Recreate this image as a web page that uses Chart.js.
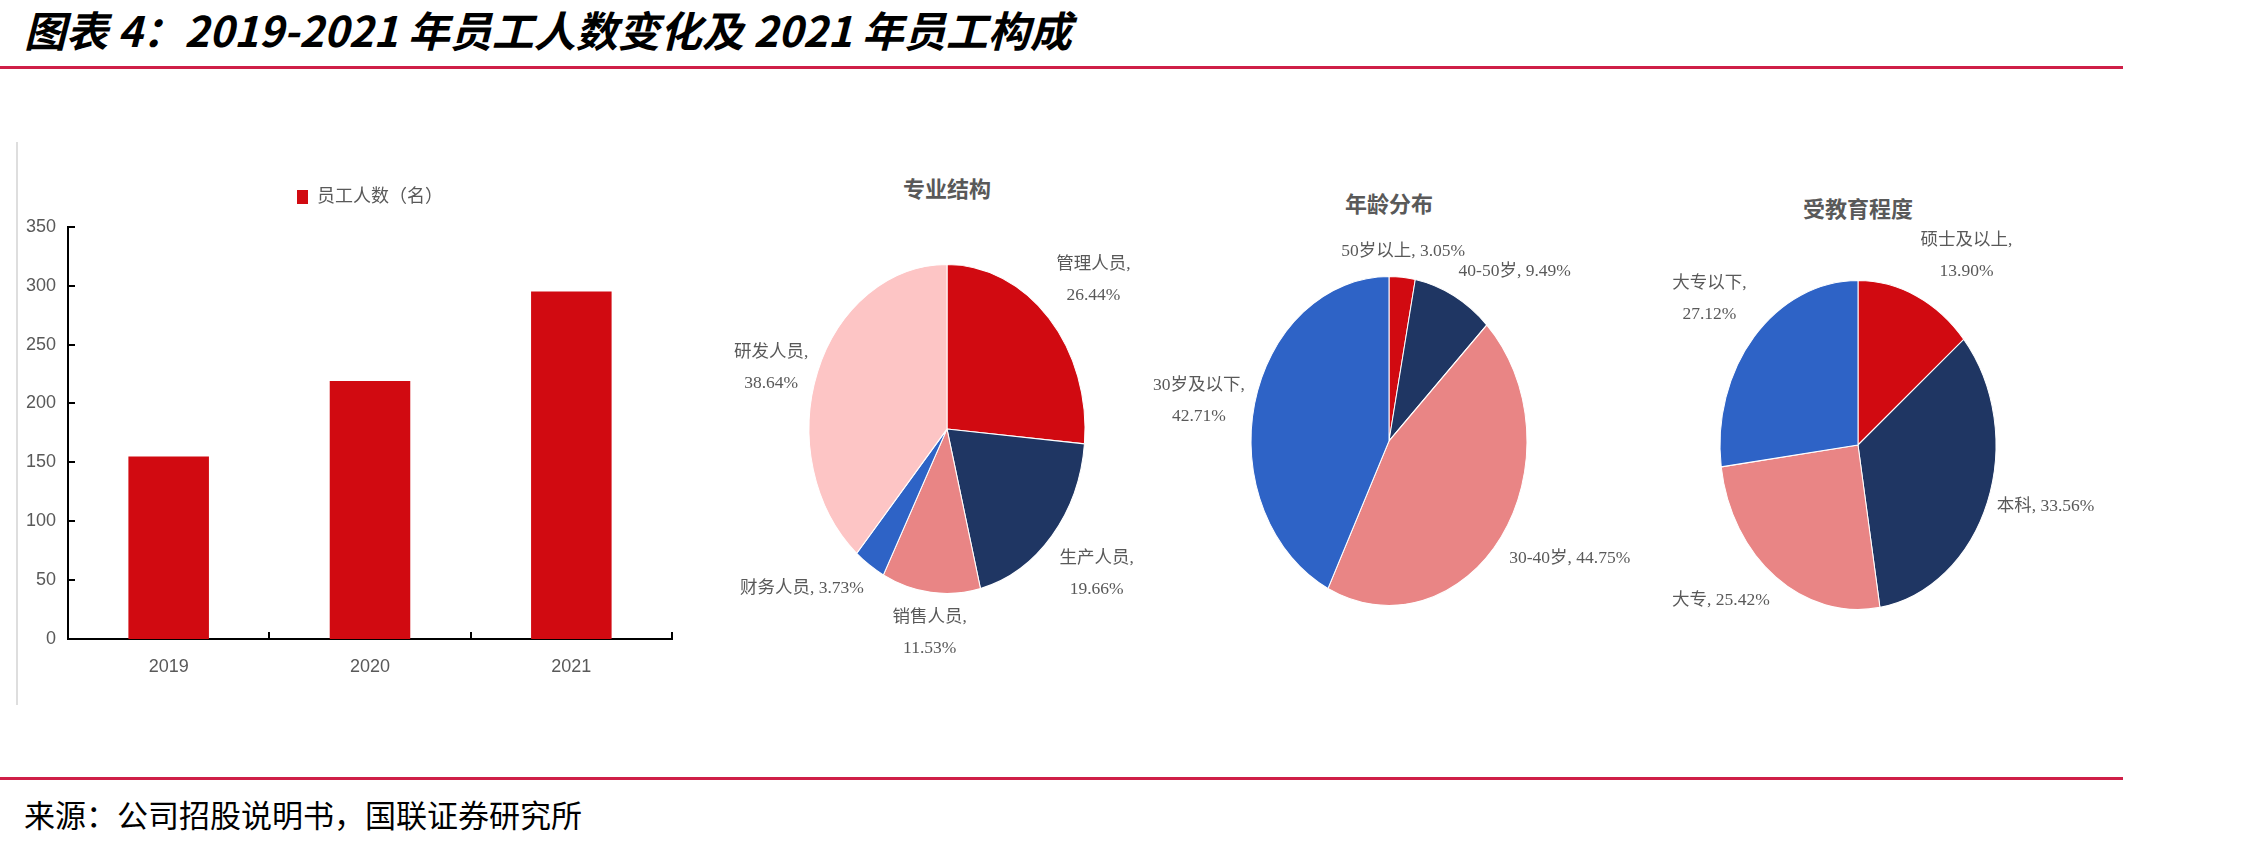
<!DOCTYPE html>
<html>
<head>
<meta charset="utf-8">
<script src="https://cdn.jsdelivr.net/npm/chart.js@4.4.1/dist/chart.umd.min.js"></script>
<style>
  body { margin: 0; background: #fff; width: 2257px; height: 843px; overflow: hidden; position: relative; }
  .abs { position: absolute; }
  #title { left: 24px; top: 4px; font: italic bold 42px 'Noto Sans CJK SC', sans-serif; line-height: 50px; color: #000; white-space: nowrap; }
  .rule { left: 0; width: 2123px; height: 3px; background: #cf1f47; }
  #source { left: 24px; top: 795px; font: 31px 'Noto Sans CJK SC', serif; line-height: 38px; color: #000; white-space: nowrap; }
  #leftLine { left: 16px; top: 142px; width: 2px; height: 563px; background: #dedede; }
  .pieTitle { font: bold 22px 'Noto Sans CJK SC', sans-serif; color: #595959; width: 300px; text-align: center; line-height: 26px; }
</style>
</head>
<body>
<div id="title" class="abs">图表 4：2019-2021 年员工人数变化及 2021 年员工构成</div>
<div class="abs rule" style="top:66px"></div>
<div id="leftLine" class="abs"></div>

<canvas id="barChart" class="abs" width="720" height="560" style="left:0;top:140px"></canvas>

<div class="abs pieTitle" style="left:797px;top:174px">专业结构</div>
<div class="abs pieTitle" style="left:1239px;top:189px">年龄分布</div>
<div class="abs pieTitle" style="left:1708px;top:194px">受教育程度</div>

<canvas id="pie1" class="abs" width="540" height="480" style="left:677px;top:189px"></canvas>
<canvas id="pie2" class="abs" width="540" height="480" style="left:1119px;top:201px"></canvas>
<canvas id="pie3" class="abs" width="540" height="480" style="left:1588px;top:205px"></canvas>

<div class="abs rule" style="top:777px"></div>
<div id="source" class="abs">来源：公司招股说明书，国联证券研究所</div>

<script>
// 员工人数
const years = ['2019', '2020', '2021'];
const staff = [155, 219, 295];

// 专业结构
const jobLabels = ['管理人员', '生产人员', '销售人员', '财务人员', '研发人员'];
const jobShare = [26.44, 19.66, 11.53, 3.73, 38.64];
const jobWrap = [true, true, true, false, true];

// 年龄分布
const ageLabels = ['50岁以上', '40-50岁', '30-40岁', '30岁及以下'];
const ageShare = [3.05, 9.49, 44.75, 42.71];
const ageWrap = [false, false, false, true];

// 受教育程度
const eduLabels = ['硕士及以上', '本科', '大专', '大专以下'];
const eduShare = [13.90, 33.56, 25.42, 27.12];
const eduWrap = [true, false, false, true];

const RED = '#d10a11';
const NAVY = '#1f3663';
const SALMON = '#e98585';
const BLUE = '#2e63c6';
const PINK = '#fdc5c5';
const GREY = '#595959';

const AXIS_FONT = "'Liberation Sans Narrow', 'Liberation Sans', 'Noto Sans CJK SC', sans-serif";
const LABEL_FONT = "'Liberation Serif', 'Noto Sans CJK SC', serif";

// 坐标轴内侧的刻度线
const innerTicks = {
  id: 'innerTicks',
  afterDraw(chart) {
    const ctx = chart.ctx;
    const x = chart.scales.x, y = chart.scales.y;
    const area = chart.chartArea;
    ctx.save();
    ctx.strokeStyle = '#000';
    ctx.lineWidth = 2;
    ctx.beginPath();
    y.ticks.forEach((t, i) => {
      const py = Math.round(y.getPixelForTick(i));
      ctx.moveTo(area.left, py);
      ctx.lineTo(area.left + 7, py);
    });
    const step = x.width / years.length;
    for (let i = 1; i <= years.length; i++) {
      const px = Math.round(x.left + step * i);
      ctx.moveTo(px, area.bottom);
      ctx.lineTo(px, area.bottom - 7);
    }
    ctx.stroke();
    ctx.restore();
  }
};

new Chart(document.getElementById('barChart'), {
  type: 'bar',
  data: {
    labels: years,
    datasets: [{
      label: '员工人数（名）',
      data: staff,
      backgroundColor: RED,
      barPercentage: 0.4,
      categoryPercentage: 1
    }]
  },
  options: {
    responsive: false,
    animation: false,
    layout: { padding: { left: 0, right: 48, top: 31, bottom: 21 } },
    plugins: {
      tooltip: { enabled: false },
      legend: {
        fullSize: false,
        labels: {
          color: GREY,
          font: { family: AXIS_FONT, size: 18 },
          boxWidth: 11,
          boxHeight: 14,
          padding: 17
        }
      },
      // 图例与绘图区之间留白
      subtitle: {
        display: true,
        text: '',
        weight: 500,
        padding: 0,
        font: { size: 9 }
      }
    },
    scales: {
      x: {
        grid: { display: false, drawTicks: false },
        border: { color: '#000', width: 2 },
        ticks: { color: GREY, font: { family: AXIS_FONT, size: 18 }, padding: 17 },
        afterFit(scale) { scale.height = 40; }
      },
      y: {
        min: 0,
        max: 350,
        grid: { display: false, drawTicks: false },
        border: { color: '#000', width: 2 },
        ticks: { stepSize: 50, color: GREY, font: { family: AXIS_FONT, size: 18 }, padding: 12 },
        afterFit(scale) { scale.width = 68; }
      }
    }
  },
  plugins: [innerTicks]
});

// 饼图：纵向拉伸成椭圆，外侧标签
const STRETCH = 164.5 / 138;
const GAP = 10;
const LINE_H = 31;

const pieLabels = {
  id: 'pieLabels',
  beforeDatasetsDraw(chart) {
    const arc = chart.getDatasetMeta(0).data[0];
    const ctx = chart.ctx;
    ctx.save();
    ctx.translate(arc.x, arc.y);
    ctx.scale(1, STRETCH);
    ctx.translate(-arc.x, -arc.y);
  },
  afterDatasetsDraw(chart) {
    chart.ctx.restore();
  },
  afterDraw(chart, args, opts) {
    const ctx = chart.ctx;
    const values = chart.data.datasets[0].data;
    ctx.save();
    ctx.font = '17.5px ' + LABEL_FONT;
    ctx.fillStyle = GREY;
    ctx.textAlign = 'center';
    ctx.textBaseline = 'middle';
    chart.getDatasetMeta(0).data.forEach((arc, i) => {
      const mid = (arc.startAngle + arc.endAngle) / 2;
      const c = Math.cos(mid), s = Math.sin(mid);
      const px = arc.x + (arc.outerRadius + GAP) * c;
      const py = arc.y + (arc.outerRadius * STRETCH + GAP) * s;
      const name = chart.data.labels[i];
      const pct = values[i].toFixed(2) + '%';
      const lines = opts.wrap[i] ? [name + ',', pct] : [name + ', ' + pct];
      const w = Math.max(...lines.map(l => ctx.measureText(l).width));
      const h = lines.length * LINE_H;
      const left = c > 0.3 ? px : (c < -0.3 ? px - w : px - w / 2);
      const top = s > 0.5 ? py : (s < -0.5 ? py - h : py - h / 2);
      lines.forEach((l, j) => ctx.fillText(l, left + w / 2, top + LINE_H * (j + 0.5)));
    });
    ctx.restore();
  }
};

function makePie(id, labels, values, colors, wrap) {
  return new Chart(document.getElementById(id), {
    type: 'pie',
    data: {
      labels: labels,
      datasets: [{
        data: values,
        backgroundColor: colors,
        borderColor: '#ffffff',
        borderWidth: 1,
        radius: 138
      }]
    },
    options: {
      responsive: false,
      animation: false,
      layout: { padding: 0 },
      plugins: {
        legend: { display: false },
        tooltip: { enabled: false },
        pieLabels: { wrap: wrap }
      }
    },
    plugins: [pieLabels]
  });
}

makePie('pie1', jobLabels, jobShare, [RED, NAVY, SALMON, BLUE, PINK], jobWrap);
makePie('pie2', ageLabels, ageShare, [RED, NAVY, SALMON, BLUE], ageWrap);
makePie('pie3', eduLabels, eduShare, [RED, NAVY, SALMON, BLUE], eduWrap);
</script>
</body>
</html>
